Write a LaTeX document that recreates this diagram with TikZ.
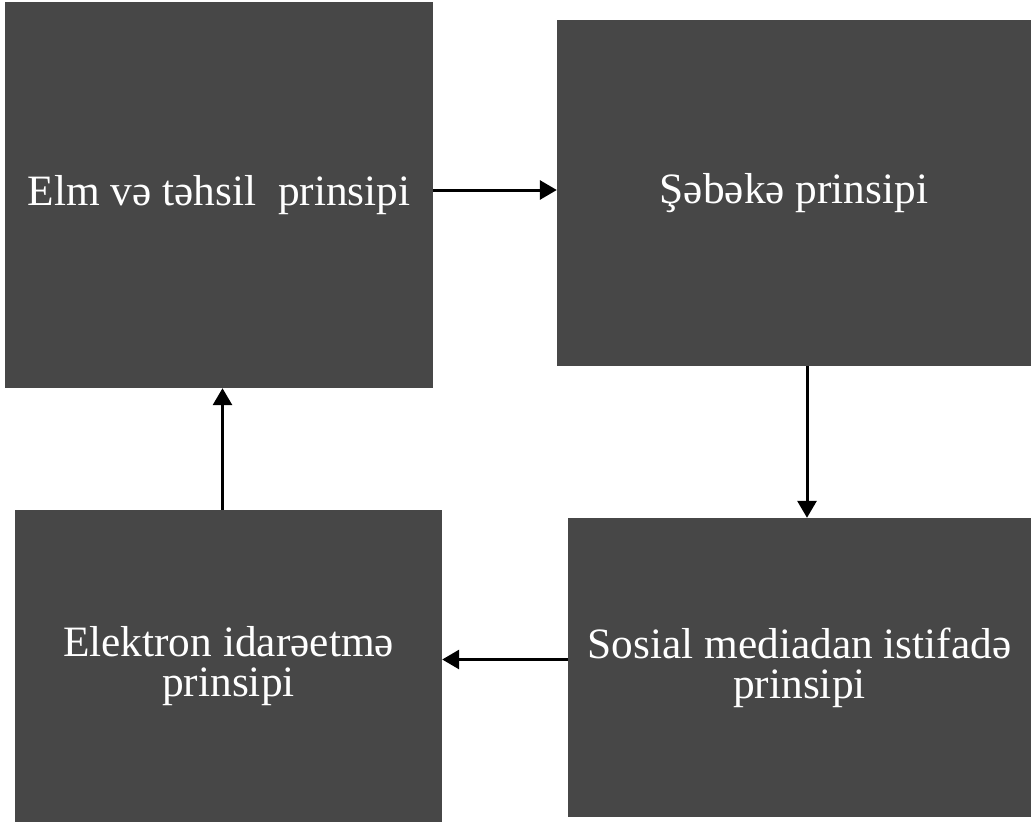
\documentclass[tikz,border=0pt]{standalone}
\usepackage{fontspec}
\setmainfont{Liberation Serif}
\usetikzlibrary{arrows.meta}

\begin{document}
\begin{tikzpicture}[x=1bp,y=-1bp,
principlebox/.style={draw=none,fill=black!72,text=white,inner sep=0pt,align=center,
  font=\fontsize{43.5}{40}\selectfont},
flowarrow/.style={line width=3bp,-{Triangle[length=17bp,width=19bp]}}]
\useasboundingbox (0,0) rectangle (1031,827);
\node (elm) at (219,195) [principlebox,minimum width=428bp,minimum height=386bp] {Elm və təhsil\ \ prinsipi};
\node (sebeke) at (794,193) [principlebox,minimum width=474bp,minimum height=346bp] {Şəbəkə prinsipi};
\node (elektron) at (228.5,666) [principlebox,minimum width=427bp,minimum height=312bp] {Elektron idarəetmə\\prinsipi};
\node (sosial) at (799.5,667.5) [principlebox,minimum width=463bp,minimum height=299bp] {Sosial mediadan istifadə\\prinsipi};
\draw[flowarrow] ([yshift=5bp]elm.east) -- ([yshift=5bp]elm.east -| sebeke.west);
\draw[flowarrow] ([xshift=13bp]sebeke.south) -- ([xshift=13bp]sebeke.south |- sosial.north);
\draw[flowarrow] ([yshift=8bp]sosial.west) -- ([yshift=8bp]sosial.west -| elektron.east);
\draw[flowarrow] ([xshift=-6bp]elektron.north) -- ([xshift=-6bp]elektron.north |- elm.south);
\end{tikzpicture}
\end{document}
